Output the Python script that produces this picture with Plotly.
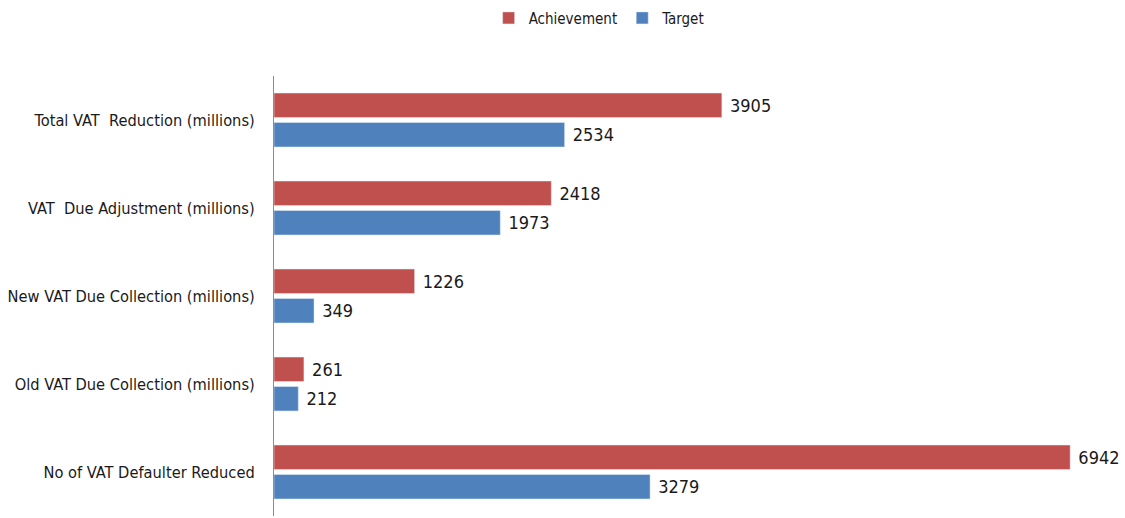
import plotly.graph_objects as go

categories = [
    "Total VAT  Reduction (millions)",
    "VAT  Due Adjustment (millions)",
    "New VAT Due Collection (millions)",
    "Old VAT Due Collection (millions)",
    "No of VAT Defaulter Reduced",
]
achievement = [3905, 2418, 1226, 261, 6942]
target = [2534, 1973, 349, 212, 3279]

red = "#C0504D"
blue = "#4F81BD"
font_family = "DejaVu Sans Condensed, Liberation Sans Narrow, sans-serif"

# bottom-to-top order for the horizontal axis
cats = categories[::-1]

fig = go.Figure()
fig.add_trace(go.Bar(
    y=cats, x=target[::-1], orientation="h", name="Target",
    marker_color=blue, text=target[::-1], texttemplate=" %{text}",
    textposition="outside", textfont=dict(size=18, color="#1a1a1a"),
    cliponaxis=False, legendrank=2,
))
fig.add_trace(go.Bar(
    y=cats, x=achievement[::-1], orientation="h", name="Achievement",
    marker_color=red, text=achievement[::-1], texttemplate=" %{text}",
    textposition="outside", textfont=dict(size=18, color="#1a1a1a"),
    cliponaxis=False, legendrank=1,
))

fig.update_layout(
    width=1125, height=518,
    margin=dict(l=274, r=0, t=76, b=2, autoexpand=False),
    paper_bgcolor="white", plot_bgcolor="white",
    font=dict(family=font_family, size=16.3, color="#1a1a1a"),
    barmode="group", bargap=0.33, bargroupgap=0.17,
    showlegend=True,
    legend=dict(
        orientation="h", xref="container", x=0.533, xanchor="center",
        yref="container", y=0.965, yanchor="middle",
        font=dict(size=15), itemwidth=30,
    ),
    xaxis=dict(range=[0, 7420], showticklabels=False, showgrid=False,
               zeroline=False, showline=False),
    yaxis=dict(categoryorder="array", categoryarray=cats, showline=True,
               linecolor="#8c8c8c", linewidth=1, ticks="", automargin=False,
               ticklabelstandoff=15, showgrid=False),
)

fig.write_html("out.html", config={"displayModeBar": False},
               post_script="document.body.style.margin='0';")
